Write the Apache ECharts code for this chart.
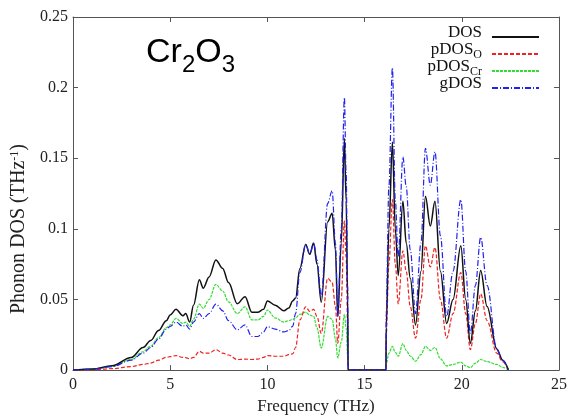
<!DOCTYPE html>
<html>
<head>
<meta charset="utf-8">
<script src="https://cdn.jsdelivr.net/npm/echarts@6/dist/echarts.min.js"></script>
<style>html,body{margin:0;padding:0;background:#fff;}#c{width:570px;height:420px;}</style>
</head>
<body>
<div id="c"></div>
<script>
var freq = [0,1,2,3,3.6,4,4.4,4.8,5.0,5.3,
  5.65,5.8,6.0,6.2,6.5,6.7,7.0,7.35,7.7,8.0,
  8.45,8.85,9.2,9.5,9.8,10.0,10.4,10.85,11.1,11.3,
  11.45,11.67,11.97,12.18,12.38,12.55,12.77,13.1,13.33,13.5,
  13.62,13.8,13.96,14.05,14.13,14.15,16.1,16.11,16.25,16.43,
  16.58,16.73,16.97,17.14,17.35,17.62,17.9,18.13,18.38,18.62,
  18.9,19.22,19.55,19.95,20.2,20.44,20.7,20.97,21.3,21.8,
  22.1,22.4];
var dos = [0,0.0008,0.003,0.009,0.016,0.021,0.028,0.035,0.039,0.043,
  0.0385,0.040,0.034,0.046,0.064,0.058,0.066,0.078,0.072,0.062,
  0.047,0.052,0.041,0.041,0.043,0.049,0.046,0.042,0.044,0.049,
  0.051,0.072,0.089,0.082,0.090,0.075,0.048,0.105,0.111,0.085,
  0.038,0.09,0.164,0.12,0.05,0,0,0.03,0.10,0.1615,
  0.10,0.067,0.1195,0.09,0.065,0.032,0.07,0.123,0.102,0.1195,
  0.07,0.033,0.05,0.088,0.05,0.019,0.042,0.0705,0.045,0.015,
  0.007,0];
var pdosO = [0,0.0002,0.001,0.0025,0.004,0.005,0.007,0.009,0.0095,0.0103,
  0.009,0.0088,0.008,0.009,0.0133,0.012,0.012,0.0145,0.012,0.0107,
  0.0075,0.0078,0.0075,0.0078,0.009,0.0103,0.0098,0.0098,0.011,0.0115,
  0.016,0.0355,0.0448,0.0415,0.043,0.038,0.026,0.065,0.062,0.045,
  0.019,0.05,0.1055,0.08,0.03,0,0,0.025,0.075,0.1207,
  0.075,0.047,0.0845,0.07,0.045,0.0226,0.05,0.088,0.073,0.0868,
  0.05,0.0226,0.04,0.069,0.04,0.0145,0.033,0.054,0.035,0.012,
  0.006,0];
var pdosCr = [0,0.0006,0.0025,0.0075,0.013,0.017,0.023,0.030,0.032,0.0366,
  0.033,0.034,0.031,0.036,0.0467,0.0437,0.050,0.0607,0.056,0.0483,
  0.040,0.0448,0.0355,0.0355,0.038,0.0425,0.037,0.034,0.035,0.036,
  0.037,0.0395,0.041,0.039,0.038,0.03,0.0156,0.038,0.036,0.022,
  0.0086,0.02,0.0395,0.03,0.01,0,0,0.004,0.012,0.0168,
  0.0125,0.0098,0.0187,0.014,0.01,0.0063,0.011,0.0168,0.014,0.016,
  0.008,0.003,0.004,0.0056,0.003,0.0017,0.005,0.0075,0.006,0.004,
  0.002,0];
var gdos = [0,0.0006,0.0025,0.007,0.012,0.016,0.022,0.029,0.031,0.034,
  0.031,0.032,0.029,0.034,0.040,0.0366,0.040,0.0467,0.042,0.035,
  0.0285,0.032,0.0238,0.0238,0.027,0.0308,0.029,0.027,0.028,0.031,
  0.040,0.069,0.089,0.082,0.090,0.078,0.052,0.118,0.127,0.09,
  0.038,0.10,0.193,0.14,0.06,0,0,0.04,0.13,0.214,
  0.12,0.080,0.151,0.13,0.085,0.040,0.09,0.157,0.131,0.1545,
  0.095,0.038,0.07,0.1207,0.07,0.026,0.06,0.094,0.06,0.0145,
  0.007,0];
var xTickLabels = ['0','5','10','15','20','25'];
var yTickLabels = ['0','0.05','0.1','0.15','0.2','0.25'];
var seriesNames = ['DOS','pDOS_O','pDOS_Cr','gDOS'];

function pairs(ys){ return freq.map(function(x,i){ return [x, ys[i]]; }); }

var serif = '"Liberation Serif","Times New Roman",serif';
var sans = '"Liberation Sans",Arial,sans-serif';
var axisCol = '#555';
var chart = echarts.init(document.getElementById('c'), null, {renderer:'canvas'});

function mkLine(name, ys, color, type, width, z){
  return {
    name: name, type: 'line', data: pairs(ys), symbol: 'none', showSymbol: false,
    smooth: 0.35, smoothMonotone: 'x', z: z,
    lineStyle: {color: color, width: width, type: type},
    itemStyle: {color: color},
    animation: false
  };
}

var option = {
  animation: false,
  backgroundColor: '#fff',
  grid: {left: 73, right: 9, top: 17, bottom: 46, containLabel: false},
  legend: {
    orient: 'vertical', right: 25, top: 19, align: 'right',
    itemWidth: 47, itemHeight: 8, itemGap: -3,
    itemStyle: {opacity: 0},
    data: seriesNames,
    formatter: function(n){
      if (n === 'pDOS_O') return '{n|pDOS}{s|O}';
      if (n === 'pDOS_Cr') return '{n|pDOS}{s|Cr}';
      return '{n|' + n + '}';
    },
    textStyle: {
      padding: [0, 5, 0, 0],
      rich: {
        n: {fontFamily: serif, fontSize: 17, lineHeight: 14, color: '#111', verticalAlign: 'bottom', padding: [0,0,3,0]},
        s: {fontFamily: serif, fontSize: 12, lineHeight: 12, color: '#111', verticalAlign: 'bottom'}
      }
    }
  },
  xAxis: [{
    type: 'value', min: 0, max: 25, interval: 5, position: 'bottom',
    name: 'Frequency (THz)', nameLocation: 'middle', nameGap: 15,
    nameTextStyle: {fontFamily: serif, fontSize: 17, color: '#222'},
    axisLine: {show: true, onZero: false, lineStyle: {color: axisCol, width: 1}},
    axisTick: {show: true, inside: true, length: 5, lineStyle: {color: axisCol}},
    axisLabel: {fontFamily: serif, fontSize: 16, color: '#222', margin: 7,
      formatter: function(v){ return xTickLabels[Math.round(v/5)]; }},
    splitLine: {show: false}
  }, {
    type: 'value', min: 0, max: 25, interval: 5, position: 'top',
    axisLine: {show: true, onZero: false, lineStyle: {color: axisCol, width: 1}},
    axisTick: {show: true, inside: true, length: 5, lineStyle: {color: axisCol}},
    axisLabel: {show: false}, splitLine: {show: false}
  }],
  yAxis: [{
    type: 'value', min: 0, max: 0.25, interval: 0.05, position: 'left',
    name: '{a|Phonon DOS (THz}{b|-1}{a|)}', nameLocation: 'middle', nameGap: 38, nameRotate: 90,
    nameTextStyle: {padding: [0, 71, 0, 0], rich: {
      a: {fontFamily: serif, fontSize: 20, color: '#222', verticalAlign: 'bottom'},
      b: {fontFamily: serif, fontSize: 12, color: '#222', verticalAlign: 'top'}
    }},
    axisLine: {show: true, onZero: false, lineStyle: {color: axisCol, width: 1}},
    axisTick: {show: true, inside: true, length: 5, lineStyle: {color: axisCol}},
    axisLabel: {fontFamily: serif, fontSize: 16, color: '#222', margin: 5,
      formatter: function(v){ return yTickLabels[Math.round(v/0.05)]; }},
    splitLine: {show: false}
  }, {
    type: 'value', min: 0, max: 0.25, interval: 0.05, position: 'right',
    axisLine: {show: true, onZero: false, lineStyle: {color: axisCol, width: 1}},
    axisTick: {show: true, inside: true, length: 5, lineStyle: {color: axisCol}},
    axisLabel: {show: false}, splitLine: {show: false}
  }],
  graphic: [{
    type: 'text', left: 146, top: 36, z: 100,
    style: {
      text: '{a|Cr}{b|2}{a|O}{b|3}',
      rich: {
        a: {fontFamily: sans, fontSize: 34, fill: '#000', verticalAlign: 'bottom', padding: [0,0,7,0]},
        b: {fontFamily: sans, fontSize: 24, fill: '#000', verticalAlign: 'bottom'}
      }
    }
  }],
  series: [
    mkLine('DOS', dos, '#111111', 'solid', 1.5, 5),
    mkLine('pDOS_O', pdosO, '#ee2222', [4, 2], 1.2, 4),
    mkLine('pDOS_Cr', pdosCr, '#33dd33', [3, 1], 1.2, 3),
    mkLine('gDOS', gdos, '#2222ee', [6, 2, 1, 2], 1.2, 6)
  ]
};
chart.setOption(option);
</script>
</body>
</html>
